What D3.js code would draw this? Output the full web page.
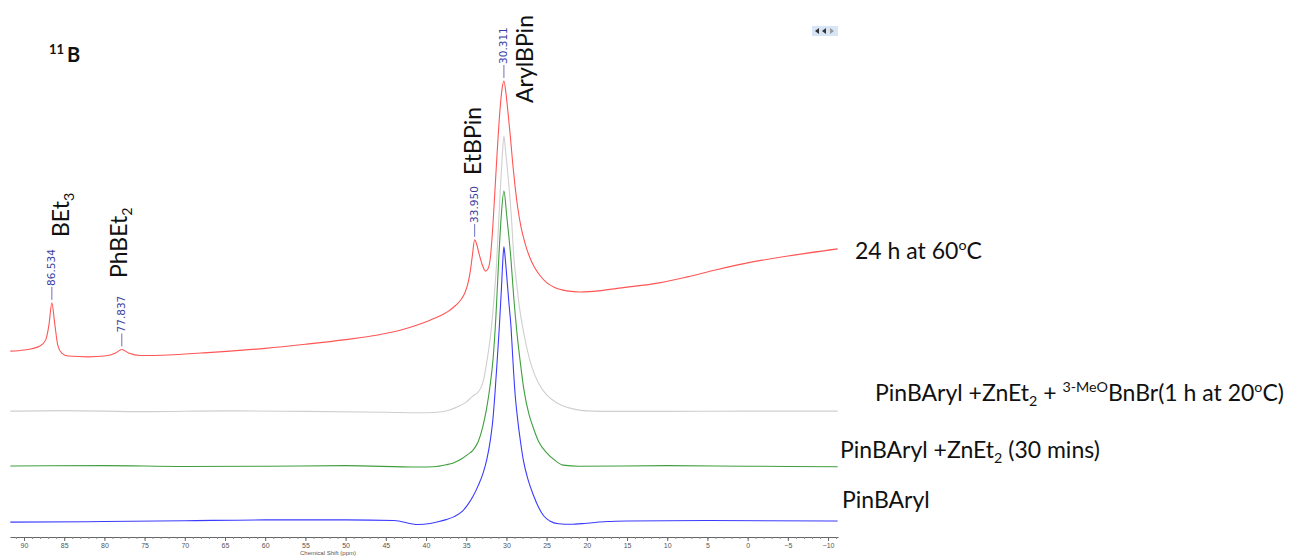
<!DOCTYPE html>
<html>
<head>
<meta charset="utf-8">
<script src="https://cdn.jsdelivr.net/npm/d3@7"></script>
<style>
html, body { margin: 0; padding: 0; background: #fff; }
</style>
</head>
<body>
<div id="chart"></div>
<script>
// 11B NMR stack, chemical shift (ppm) vs intensity (arbitrary units, blue peak = 100)
var spec24h = [[91.7,2.0],[90.0,2.4],[88.0,3.9],[87.3,6.1],[86.9,11.5],[86.534,19.6],[86.2,12.6],[85.8,4.2],[85.3,1.3],[84.5,0.2],[82.0,-0.1],[80.0,0.2],[78.6,1.3],[77.837,2.6],[77.0,1.3],[75.5,0.4],[72.0,0.6],[68.0,1.3],[60.0,3.0],[55.0,4.5],[50.0,6.2],[46.0,7.9],[43.0,9.8],[41.0,11.6],[39.5,13.3],[38.3,14.8],[37.3,16.4],[36.5,18.2],[35.8,20.2],[35.2,23.0],[34.8,26.5],[34.5,31.0],[34.25,36.5],[33.95,42.6],[33.7,41.0],[33.4,37.5],[33.0,33.5],[32.6,31.2],[32.3,32.0],[32.0,36.0],[31.7,47.0],[31.4,62.0],[31.1,77.0],[30.8,90.0],[30.55,97.5],[30.311,100.6],[30.05,96.0],[29.8,89.0],[29.5,80.0],[29.2,70.0],[28.9,61.5],[28.6,54.5],[28.2,47.5],[27.7,41.5],[27.2,37.0],[26.5,32.5],[25.8,29.5],[25.0,27.0],[24.0,25.2],[22.5,24.0],[20.8,23.6],[18.5,24.0],[16.0,25.0],[11.0,26.9],[7.5,29.1],[4.0,31.6],[0.0,34.2],[-5.0,36.7],[-11.2,39.3]];
var specBnBr = [[91.7,0.1],[85,0.3],[75,-0.1],[65,0.2],[55,0.0],[45,-0.3],[40,-0.5],[38,-0.1],[37,0.6],[36,1.8],[35.0,3.4],[34.4,5.0],[34.0,6.0],[33.6,6.8],[33.2,8.5],[32.8,12.0],[32.4,18.8],[32.0,27.0],[31.6,39.0],[31.2,55.3],[30.95,70.0],[30.7,84.0],[30.5,94.0],[30.311,100.5],[30.1,95.0],[29.8,86.0],[29.4,71.7],[29.05,55.3],[28.7,46.0],[28.4,38.5],[27.8,27.9],[27.1,18.8],[26.5,13.5],[26.0,10.3],[25.0,6.0],[23.7,3.1],[22.1,1.2],[20.5,0.3],[18,0.0],[10,0.0],[0,0.1],[-11.2,0.1]];
var specZn = [[91.7,0.1],[80,0.2],[70,-0.1],[60,0.0],[50,0.2],[41,-0.3],[39,-0.2],[37.5,0.5],[36.6,1.2],[35.5,2.8],[34.8,4.3],[34.15,5.9],[33.5,9.0],[32.95,14.3],[32.5,20.5],[32.05,29.0],[31.67,38.8],[31.3,55.0],[30.96,75.3],[30.65,91.0],[30.311,100.4],[29.95,91.0],[29.7,84.0],[29.43,75.3],[29.1,62.0],[28.7,49.0],[28.31,38.8],[27.8,27.5],[27.2,19.0],[26.69,14.3],[26.0,9.0],[24.95,4.8],[24.0,2.2],[22.96,0.4],[21,0.0],[10,0.2],[0,0.0],[-11.2,-0.2]];
var specPin = [[91.7,-0.4],[80,-0.2],[70,0.1],[60,0.4],[50,0.4],[44,0.2],[41,-1.3],[39.5,-0.9],[38.5,-0.3],[37.5,0.5],[36.5,1.6],[35.5,3.5],[34.8,6.0],[34.15,9.0],[33.5,13.0],[32.9,17.5],[32.45,22.3],[32.0,29.5],[31.7,36.5],[31.42,46.7],[31.15,58.5],[30.88,70.9],[30.6,86.0],[30.45,95.0],[30.311,100.1],[30.15,96.0],[29.95,89.0],[29.7,80.0],[29.43,70.9],[29.2,59.0],[28.93,46.7],[28.6,37.0],[28.25,29.0],[27.9,22.3],[27.3,15.0],[26.65,9.5],[26.0,5.0],[25.4,2.0],[24.6,0.0],[23.5,-1.0],[22.0,-1.2],[20.0,-0.8],[17.5,-0.2],[15,0.0],[5,0.2],[-11.2,0.0]];

var spectra = [spec24h, specBnBr, specZn, specPin];
var stackOffsets = [60, 40, 20, 0];
var colors = ["#ff5555", "#cfcfcf", "#3f9f3f", "#3b3bff"];

// legend texts, parts: [text, "" | "sub" | "sup"]
var legendTexts = [
  [["24 h at 60", ""], ["o", "sup"], ["C", ""]],
  [["PinBAryl +ZnEt", ""], ["2", "sub"], [" + ", ""], ["3-MeO", "sup"], ["BnBr(1 h at 20", ""], ["o", "sup"], ["C)", ""]],
  [["PinBAryl +ZnEt", ""], ["2", "sub"], [" (30 mins)", ""]],
  [["PinBAryl", ""]]
];

var peakShifts = [86.534, 77.837, 33.950, 30.311];
var compounds = [
  [["BEt", ""], ["3", "sub"]],
  [["PhBEt", ""], ["2", "sub"]],
  [["EtBPin", ""]],
  [["ArylBPin", ""]]
];

var xTicks = d3.range(-10, 91, 5);
var xMinorTicks = d3.range(-11, 92, 1);

var width = 1290, height = 556;
var svg = d3.select("#chart").append("svg")
  .attr("width", width)
  .attr("height", height)
  .style("font-family", "Lato, 'Open Sans', sans-serif");

var x = d3.scaleLinear().domain([91.74, -11.24]).range([10, 838]);
var y = d3.scaleLinear().domain([0, 100]).range([521, 247]);

// rich text with sub / superscripts
function rich(sel, parts, size) {
  var shift = 0;
  parts.forEach(function (p) {
    var target = p[1] === "sup" ? -size * 0.38 : p[1] === "sub" ? size * 0.22 : 0;
    sel.append("tspan")
      .attr("dy", target - shift)
      .attr("font-size", p[1] ? size * 0.62 : size)
      .text(p[0]);
    shift = target;
  });
}

// axis
var axisY = 537;
svg.append("g")
  .attr("transform", "translate(0," + axisY + ")")
  .call(d3.axisBottom(x).tickValues(xMinorTicks).tickSize(2).tickSizeOuter(0).tickFormat(""))
  .call(function (g) {
    g.select(".domain").attr("stroke", "#666");
    g.selectAll(".tick line").attr("stroke", "#888");
  });
svg.append("g")
  .attr("transform", "translate(0," + axisY + ")")
  .call(d3.axisBottom(x).tickValues(xTicks).tickSize(4).tickSizeOuter(0).tickPadding(2))
  .call(function (g) {
    g.select(".domain").remove();
    g.selectAll(".tick line").attr("stroke", "#666");
    g.selectAll(".tick text")
      .attr("font-family", "'Liberation Sans', Arial, sans-serif")
      .attr("font-size", 7)
      .attr("fill", "#555");
  });
svg.append("text")
  .attr("x", 328).attr("y", 555)
  .attr("text-anchor", "middle")
  .attr("font-family", "'Liberation Sans', Arial, sans-serif")
  .attr("font-size", 6)
  .attr("fill", "#555")
  .text("Chemical Shift (ppm)");

// spectra
spectra.forEach(function (s, i) {
  var line = d3.line()
    .x(function (d) { return x(d[0]); })
    .y(function (d) { return y(d[1] + stackOffsets[i]); })
    .curve(d3.curveMonotoneX);
  svg.append("path")
    .datum(s)
    .attr("fill", "none")
    .attr("stroke", colors[i])
    .attr("stroke-width", 1.1)
    .attr("d", line);
});

// peak picks on the top spectrum
var compoundPos = [{dx: 17, y: 237}, {dx: 5, y: 278}, {dx: 6, y: 175}, {dx: 29, y: 103}];
peakShifts.forEach(function (p, i) {
  var pt = spec24h.find(function (d) { return d[0] === p; });
  var px = x(p), py = y(pt[1] + stackOffsets[0]);
  svg.append("line")
    .attr("x1", px).attr("x2", px)
    .attr("y1", py - 3).attr("y2", py - 16)
    .attr("stroke", "#7070c0").attr("stroke-width", 1);
  svg.append("text")
    .attr("transform", "translate(" + (px + 3.5) + "," + (py - 17) + ") rotate(-90)")
    .attr("font-family", "'DejaVu Sans', sans-serif")
    .attr("font-size", 10.5)
    .attr("fill", "#3d3d9e")
    .text(p.toFixed(3));

  var c = compoundPos[i];
  var t = svg.append("text")
    .attr("transform", "translate(" + (px + c.dx) + "," + c.y + ") rotate(-90)")
    .attr("fill", "#111");
  rich(t, compounds[i], 23);
});

// legend labels beside each trace
var legendPos = [[855, 259], [875, 401], [840, 458], [842, 508]];
legendTexts.forEach(function (parts, i) {
  var t = svg.append("text")
    .attr("x", legendPos[i][0]).attr("y", legendPos[i][1])
    .attr("fill", "#111");
  rich(t, parts, 23);
});

// nucleus label
svg.append("text").attr("x", 49).attr("y", 54)
  .attr("font-size", 13).attr("font-weight", "bold").attr("fill", "#111").text("11");
svg.append("text").attr("x", 67).attr("y", 62)
  .attr("font-size", 20).attr("font-weight", "bold").attr("fill", "#111").text("B");

// little navigation widget top right
var nav = svg.append("g").attr("transform", "translate(812,26)");
nav.append("rect").attr("width", 26).attr("height", 10).attr("fill", "#d8e5f6");
nav.append("path").attr("d", "M3,5 L7,2 L7,8 Z").attr("fill", "#333");
nav.append("path").attr("d", "M10,5 L14,2 L14,8 Z").attr("fill", "#333");
nav.append("path").attr("d", "M22,5 L18,2 L18,8 Z").attr("fill", "#999");
</script>
</body>
</html>
